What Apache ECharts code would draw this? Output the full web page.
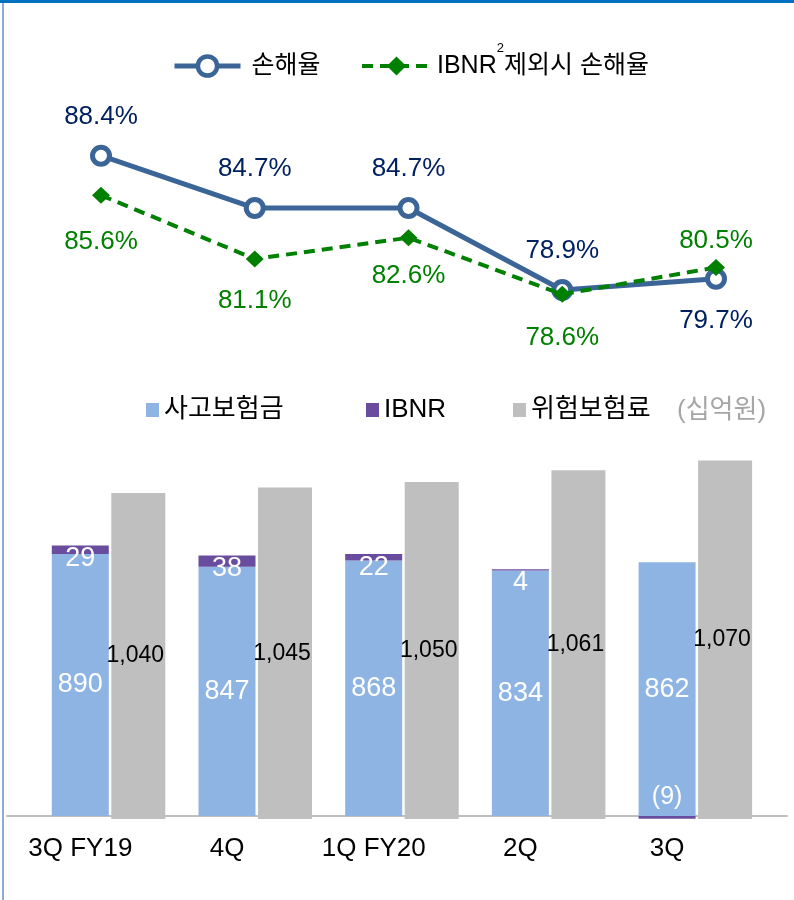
<!DOCTYPE html>
<html><head><meta charset="utf-8">
<script src="https://cdn.jsdelivr.net/npm/echarts@6/dist/echarts.min.js"></script>
<style>html,body{margin:0;padding:0;background:#fff}#c{width:794px;height:900px}</style>
</head><body><div id="c"></div>
<script>
// ---- data ----
const categories = ['3Q FY19', '4Q', '1Q FY20', '2Q', '3Q'];
const lossRatio = [88.4, 84.7, 84.7, 78.9, 79.7];
const lossRatioExIbnr = [85.6, 81.1, 82.6, 78.6, 80.5];
const claimsPaid = [890, 847, 868, 834, 862];
const ibnr = [29, 38, 22, 4, -9];
const riskPremium = [1040, 1045, 1050, 1061, 1070];
const seriesNames = ['손해율', 'IBNR 제외시 손해율', '사고보험금', 'IBNR', '위험보험료'];
const unitLabel = '(십억원)';

// ---- label placement (style only) ----
const lossLabelPos = ['top', 'top', 'top', 'top', 'bottom'];
const lossLabelDist = [15, 15, 15, 15, 18];
const exLabelPos = ['bottom', 'bottom', 'bottom', 'bottom', 'top'];
const exLabelDist = [25, 20, 17, 22, 5];

const LATIN = '"Liberation Sans", Arial, sans-serif';
const KR = '"Liberation Sans", "Noto Sans CJK KR", sans-serif';

const BLUE_LINE = '#3B6597';
const GREEN = '#008000';
const BAR_BLUE = '#8EB4E3';
const BAR_PURPLE = '#6A4C9E';
const BAR_GRAY = '#BFBFBF';

const chart = echarts.init(document.getElementById('c'), null, {renderer: 'canvas'});

const barLegend = (name, left) => ({
  data: [name], left: left, top: 397, padding: 0, icon: 'rect', itemWidth: 13, itemHeight: 14,
  textStyle: {fontSize: 26, color: '#000', fontFamily: KR}
});

const option = {
  animation: false,
  backgroundColor: '#ffffff',
  graphic: [
    {type: 'rect', shape: {x: 0, y: 0, width: 794, height: 3}, style: {fill: '#0070C0'}, z: 100},
    {type: 'rect', shape: {x: 2, y: 3, width: 2, height: 897}, style: {fill: '#8EA9DB'}, z: 100}
  ],
  title: {
    text: unitLabel, left: 677, top: 398, padding: 0,
    textStyle: {fontSize: 26, fontWeight: 'normal', color: '#A6A6A6', fontFamily: KR}
  },
  legend: [
    {
      data: [seriesNames[0]], left: 172, top: 53.5, padding: 0, itemWidth: 66, itemHeight: 24,
      lineStyle: {width: 5},
      itemStyle: {borderWidth: 4.5},
      textStyle: {fontSize: 25, color: '#000', fontFamily: KR, padding: [0, 0, 0, 6]}
    },
    {
      data: [seriesNames[1]], left: 360, top: 41.5, padding: 0, itemWidth: 69, itemHeight: 24,
      lineStyle: {width: 4},
      formatter: function () { return 'IBNR{sup|2}제외시 손해율'; },
      textStyle: {
        fontSize: 25, color: '#000', fontFamily: KR, padding: [0, 0, 0, 1],
        rich: {sup: {fontSize: 13, lineHeight: 13, padding: [0, 0, 36, 0], fontFamily: LATIN, color: '#000'}}
      }
    },
    barLegend(seriesNames[2], 146),
    barLegend(seriesNames[3], 366),
    barLegend(seriesNames[4], 513)
  ],
  grid: [
    {left: 101, width: 615, top: 104.8, height: 240.4},   // lines
    {left: 35.2, width: 733.5, top: 440, height: 379},     // bars
    {left: 7, width: 780, top: 440, height: 376},          // baseline
    {left: 7, width: 733.5, top: 440, height: 376}         // category labels
  ],
  xAxis: [
    {gridIndex: 0, type: 'category', data: categories, boundaryGap: false, show: false},
    {gridIndex: 1, type: 'category', data: categories, show: false},
    {gridIndex: 2, type: 'value', min: 0, max: 1,
      axisLine: {show: true, lineStyle: {color: '#BFBFBF', width: 2}},
      axisTick: {show: false}, axisLabel: {show: false}, splitLine: {show: false}},
    {gridIndex: 3, type: 'category', data: categories,
      axisLine: {show: false}, axisTick: {show: false},
      axisLabel: {show: true, margin: 20, fontSize: 26, color: '#000', fontFamily: LATIN}}
  ],
  yAxis: [
    {gridIndex: 0, type: 'value', min: 75, max: 92, show: false},
    {gridIndex: 1, type: 'value', min: -10, max: 1277, show: false},
    {gridIndex: 1, type: 'value', min: 739.5, max: 1088.8, show: false},
    {gridIndex: 2, type: 'value', min: 0, max: 1, show: false},
    {gridIndex: 3, type: 'value', min: 0, max: 1, show: false}
  ],
  series: [
    {
      name: seriesNames[0], type: 'line', xAxisIndex: 0, yAxisIndex: 0,
      data: lossRatio.map((v, i) => ({value: v, label: {position: lossLabelPos[i], distance: lossLabelDist[i]}})),
      symbol: 'circle', symbolSize: 17,
      lineStyle: {color: BLUE_LINE, width: 5},
      itemStyle: {color: '#ffffff', borderColor: BLUE_LINE, borderWidth: 5},
      label: {show: true, fontSize: 26, color: '#002060', fontFamily: LATIN,
        formatter: p => p.value.toFixed(1) + '%'},
      z: 3
    },
    {
      name: seriesNames[1], type: 'line', xAxisIndex: 0, yAxisIndex: 0,
      data: lossRatioExIbnr.map((v, i) => ({value: v, label: {position: exLabelPos[i], distance: exLabelDist[i]}})),
      symbol: 'diamond', symbolSize: [18, 17],
      lineStyle: {color: GREEN, width: 4, type: [11, 7]},
      itemStyle: {color: GREEN},
      label: {show: true, fontSize: 26, color: GREEN, fontFamily: LATIN,
        formatter: p => p.value.toFixed(1) + '%'},
      z: 4
    },
    {
      name: seriesNames[2], type: 'bar', xAxisIndex: 1, yAxisIndex: 1, stack: 'claims',
      data: claimsPaid, barWidth: 57, barGap: '4.4%',
      itemStyle: {color: BAR_BLUE},
      label: {show: true, position: 'inside', fontSize: 27, color: '#fff', fontFamily: LATIN}
    },
    {
      name: seriesNames[3], type: 'bar', xAxisIndex: 1, yAxisIndex: 1, stack: 'claims',
      data: ibnr.map(v => v < 0 ? {value: v, label: {position: 'top', distance: 6, fontSize: 25}} : v),
      barWidth: 57,
      itemStyle: {color: BAR_PURPLE},
      label: {show: true, position: 'insideTop', distance: 0, fontSize: 27, color: '#fff', fontFamily: LATIN,
        formatter: p => p.value < 0 ? '(' + (-p.value) + ')' : String(p.value)}
    },
    {
      name: seriesNames[4], type: 'bar', xAxisIndex: 1, yAxisIndex: 2,
      data: riskPremium, barWidth: 54,
      itemStyle: {color: BAR_GRAY},
      label: {show: true, position: 'inside', offset: [-3, 0], fontSize: 23, color: '#000', fontFamily: LATIN,
        formatter: p => p.value.toLocaleString('en-US')}
    }
  ]
};
chart.setOption(option);
</script>
</body></html>
